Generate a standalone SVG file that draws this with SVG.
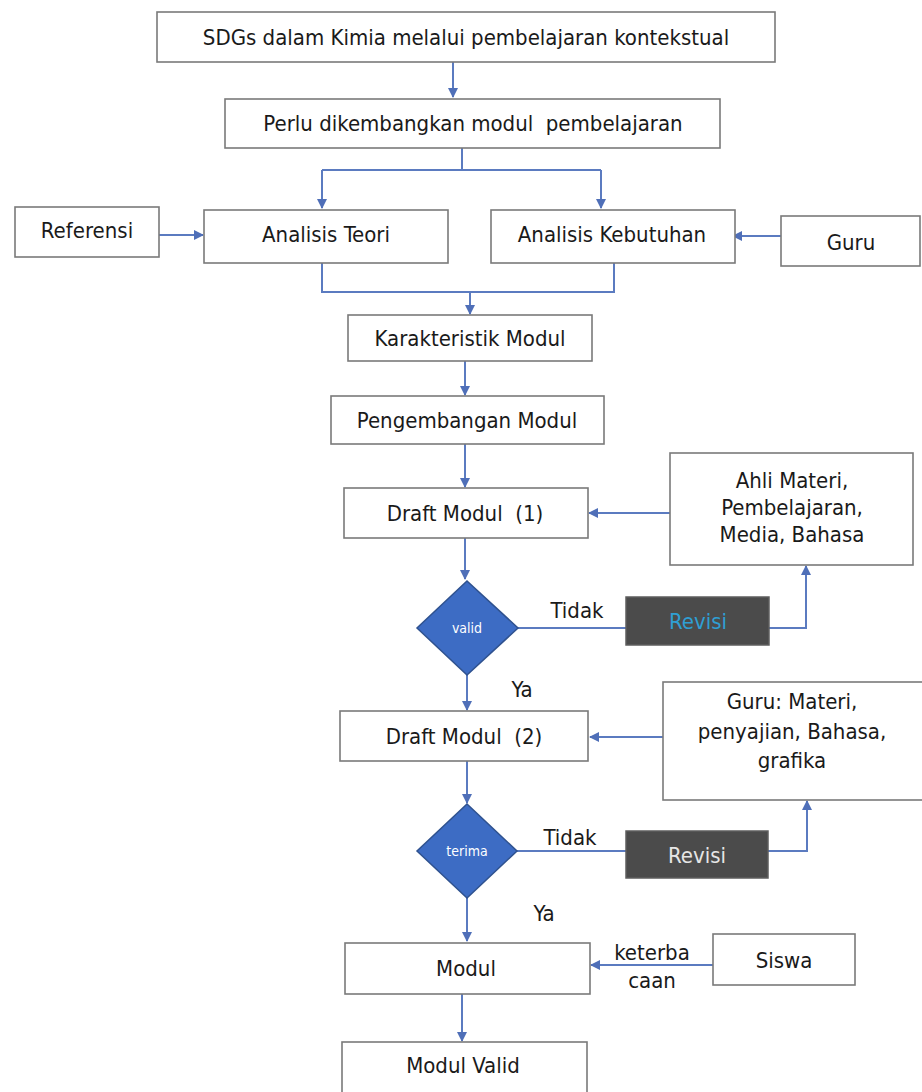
<svg xmlns="http://www.w3.org/2000/svg" width="922" height="1092" viewBox="0 0 922 1092">
<style>
.box{fill:#ffffff;stroke:#7a7a7a;stroke-width:1.6}
.t{font-family:"DejaVu Sans Condensed","DejaVu Sans",sans-serif;font-stretch:condensed;font-size:22px;fill:#1a1a1a;text-anchor:middle;dominant-baseline:central}
.c{fill:none;stroke:#5b7bc0;stroke-width:2}
.dia{fill:#3d6cc4;stroke:#2f528f;stroke-width:1.5}
.dt{font-family:"DejaVu Sans Condensed","DejaVu Sans",sans-serif;font-size:14px;fill:#ffffff;text-anchor:middle;dominant-baseline:central}
.rev{fill:#4b4b4b;stroke:#5e5e5e;stroke-width:1.5}
</style>
<defs>
<marker id="ah" viewBox="0 0 10 10" refX="9" refY="5" markerWidth="5" markerHeight="5" orient="auto" markerUnits="strokeWidth">
<path d="M0,0 L10,5 L0,10 z" fill="#4f6fb8"/>
</marker>
</defs>
<rect width="922" height="1092" fill="#ffffff"/>
<g id="connectors">
<path class="c" d="M453,62 V97" marker-end="url(#ah)"/>
<path class="c" d="M462,148 V170 M322,170 H601"/>
<path class="c" d="M322,170 V208" marker-end="url(#ah)"/>
<path class="c" d="M601,170 V208" marker-end="url(#ah)"/>
<path class="c" d="M159,235 H203" marker-end="url(#ah)"/>
<path class="c" d="M781,236 H733" marker-end="url(#ah)"/>
<path class="c" d="M322,263 V292 H614 V263"/>
<path class="c" d="M470,292 V314" marker-end="url(#ah)"/>
<path class="c" d="M465,361 V395" marker-end="url(#ah)"/>
<path class="c" d="M465,444 V487" marker-end="url(#ah)"/>
<path class="c" d="M670,513 H589" marker-end="url(#ah)"/>
<path class="c" d="M465,538 V579" marker-end="url(#ah)"/>
<path class="c" d="M518,628 H806 V566" marker-end="url(#ah)"/>
<path class="c" d="M467,675 V710" marker-end="url(#ah)"/>
<path class="c" d="M663,737 H590" marker-end="url(#ah)"/>
<path class="c" d="M467,761 V803" marker-end="url(#ah)"/>
<path class="c" d="M517,851 H807 V801" marker-end="url(#ah)"/>
<path class="c" d="M467,898 V941" marker-end="url(#ah)"/>
<path class="c" d="M713,965 H591" marker-end="url(#ah)"/>
<path class="c" d="M462,994 V1041" marker-end="url(#ah)"/>
</g>
<g id="n1"><rect class="box" x="157" y="12" width="618" height="50"/><text class="t" x="466" y="37">SDGs dalam Kimia melalui pembelajaran kontekstual</text></g>
<g id="n2"><rect class="box" x="225" y="99" width="495" height="49"/><text class="t" x="473" y="123" xml:space="preserve">Perlu dikembangkan modul  pembelajaran</text></g>
<g id="n3"><rect class="box" x="15" y="207" width="144" height="50"/><text class="t" x="87" y="230">Referensi</text></g>
<g id="n4"><rect class="box" x="204" y="210" width="244" height="53"/><text class="t" x="326" y="234">Analisis Teori</text></g>
<g id="n5"><rect class="box" x="491" y="210" width="244" height="53"/><text class="t" x="612" y="234">Analisis Kebutuhan</text></g>
<g id="n6"><rect class="box" x="781" y="216" width="139" height="50"/><text class="t" x="851" y="242">Guru</text></g>
<g id="n7"><rect class="box" x="348" y="315" width="244" height="46"/><text class="t" x="470" y="338">Karakteristik Modul</text></g>
<g id="n8"><rect class="box" x="331" y="396" width="273" height="48"/><text class="t" x="467" y="420">Pengembangan Modul</text></g>
<g id="n9"><rect class="box" x="344" y="488" width="244" height="50"/><text class="t" x="465" y="513" xml:space="preserve">Draft Modul  (1)</text></g>
<g id="n10"><rect class="box" x="670" y="453" width="243" height="112"/><text class="t" x="792" y="480">Ahli Materi,</text><text class="t" x="792" y="507">Pembelajaran,</text><text class="t" x="792" y="534">Media, Bahasa</text></g>
<g id="n11"><polygon class="dia" points="467,581 518,628 467,675 417,628"/><text class="dt" x="467" y="628">valid</text></g>
<g id="n12"><rect class="rev" x="626" y="597" width="143" height="48"/><text class="t" x="698" y="621" style="fill:#2f9fd4">Revisi</text></g>
<text class="t" x="577" y="610">Tidak</text>
<text class="t" x="522" y="689">Ya</text>
<g id="n13"><rect class="box" x="340" y="711" width="248" height="50"/><text class="t" x="464" y="736" xml:space="preserve">Draft Modul  (2)</text></g>
<g id="n14"><rect class="box" x="663" y="682" width="260" height="118"/><text class="t" x="792" y="701">Guru: Materi,</text><text class="t" x="792" y="731">penyajian, Bahasa,</text><text class="t" x="792" y="760">grafika</text></g>
<g id="n15"><polygon class="dia" points="467,804 517,851 467,898 417,851"/><text class="dt" x="467" y="851">terima</text></g>
<g id="n16"><rect class="rev" x="626" y="831" width="142" height="47"/><text class="t" x="697" y="855" style="fill:#e6e6e6">Revisi</text></g>
<text class="t" x="570" y="837">Tidak</text>
<text class="t" x="544" y="913">Ya</text>
<g id="n17"><rect class="box" x="345" y="943" width="245" height="51"/><text class="t" x="466" y="968">Modul</text></g>
<g id="n18"><rect class="box" x="713" y="934" width="142" height="51"/><text class="t" x="784" y="960">Siswa</text></g>
<text class="t" x="652" y="952">keterba</text>
<text class="t" x="652" y="980">caan</text>
<g id="n19"><rect class="box" x="342" y="1042" width="245" height="52"/><text class="t" x="463" y="1065">Modul Valid</text></g>
</svg>
